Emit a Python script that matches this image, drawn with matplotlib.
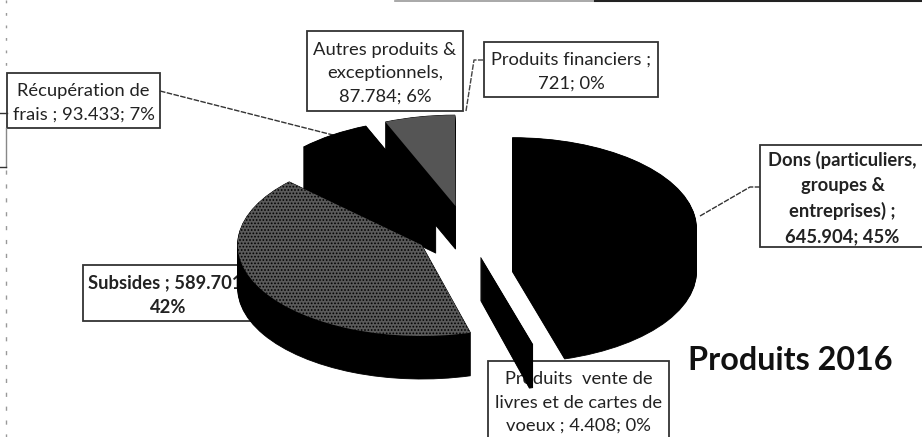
import matplotlib
matplotlib.use("Agg")
import matplotlib.pyplot as plt
from matplotlib.patches import Rectangle

plt.rcParams['font.family'] = ['Lato', 'DejaVu Sans']
plt.rcParams['hatch.linewidth'] = 0.8

# values of the pie, same order as the Excel chart (clockwise from the top)
categories = ["Dons", "Produits vente", "Subsides", "Récupération de frais",
              "Autres produits", "Produits financiers"]
values = [645904, 4408, 589701, 93433, 87784, 721]
explode = [0.255, 0.29, 0.28, 0.29, 0.29, 0.29]
top_colors = ["black", "black", "#5a5a5a", "black", "#555555", "#555555"]

# label text, box as left, top, right, bottom in pixels
label_texts = ["Récupération de\nfrais ; 93.433; 7%",
               "Autres produits &\nexceptionnels,\n87.784; 6%",
               "Produits financiers ;\n721; 0%",
               "Dons (particuliers,\ngroupes &\nentreprises) ;\n645.904; 45%",
               "Subsides ; 589.701;\n42%",
               "Produits  vente de\nlivres et de cartes de\nvoeux ; 4.408; 0%"]
label_boxes = [(7, 73, 160, 128),
               (307, 31, 463, 111),
               (484, 42, 658, 97),
               (760, 145, 925, 247),
               (83, 265, 253, 321),
               (488, 361, 669, 440)]
label_bold = [False, False, False, True, True, False]

W, H = 922, 437
cx, cy, rx, ry = 466, 232, 184, 91  # pie centre and radii in pixels
depth = 43

fig = plt.figure(figsize=(W / 100, H / 100), dpi=100)

# background layer in pixel coordinates: boxes, leaders, title
bg = fig.add_axes([0, 0, 1, 1])
bg.set_xlim(0, W)
bg.set_ylim(H, 0)
bg.axis("off")

for text, box, bold in zip(label_texts, label_boxes, label_bold):
    x0, y0, x1, y1 = box
    bg.add_patch(Rectangle((x0, y0), x1 - x0, y1 - y0, fc="white", ec="#333333", lw=1.3))
    bg.text((x0 + x1) / 2, (y0 + y1) / 2 + 2, text, ha="center", va="center",
            fontsize=13.2, linespacing=1.56, color="#222222",
            fontweight="bold" if bold else "normal")

bg.plot([160, 333], [91, 135], color="#333333", lw=1, ls=(0, (4, 1)))
bg.plot([466, 474, 484], [111, 60, 60], color="#444444", lw=1, ls=(0, (4, 1)))
bg.plot([700, 750, 760], [216, 187, 187], color="#333333", lw=1, ls=(0, (4, 1)))

# scan leftovers around the page
bg.plot([6, 6], [0, 72], color="#999999", lw=1, ls=(0, (2, 7)))
bg.plot([6, 6], [128, 167], color="#888888", lw=1)
bg.plot([0, 6], [167, 167], color="#333333", lw=1)
bg.plot([0, 7], [113, 113], color="#333333", lw=1)
bg.plot([6, 6], [170, 437], color="#999999", lw=1, ls=(0, (3, 7)))
bg.plot([395, 595], [0.5, 0.5], color="#999999", lw=1.2)
bg.plot([595, 922], [0.5, 0.5], color="#222222", lw=1.5)

bg.text(688, 361, "Produits 2016", fontsize=23.3, fontweight="bold", color="#111111",
        va="center", ha="left")

# pie layer on top, squashed so the circle looks like a tilted disc
ax = fig.add_axes([0, 0, 1, 1])
ax.patch.set_alpha(0)

# side walls: black copies of the pie going down
for step in range(depth + 1):
    side, _ = ax.pie(values, explode=explode, colors=["black"] * len(values), startangle=90,
                     counterclock=False, center=(0, -step / ry),
                     wedgeprops={"linewidth": 0.6, "edgecolor": "black"})
    side[5].set_visible(False)  # 721 is too small to show in the original

# top faces
wedges, _ = ax.pie(values, explode=explode, colors=top_colors, startangle=90,
                   counterclock=False, wedgeprops={"linewidth": 0})
wedges[5].set_visible(False)
wedges[2].set_hatch(".....")
wedges[2].set_edgecolor("black")
wedges[2].set_linewidth(0)

ax.set_aspect("auto")
ax.set_xlim((0 - cx) / rx, (W - cx) / rx)
ax.set_ylim((cy - H) / ry, cy / ry)
ax.axis("off")

fig.savefig("out.png", dpi=100)
